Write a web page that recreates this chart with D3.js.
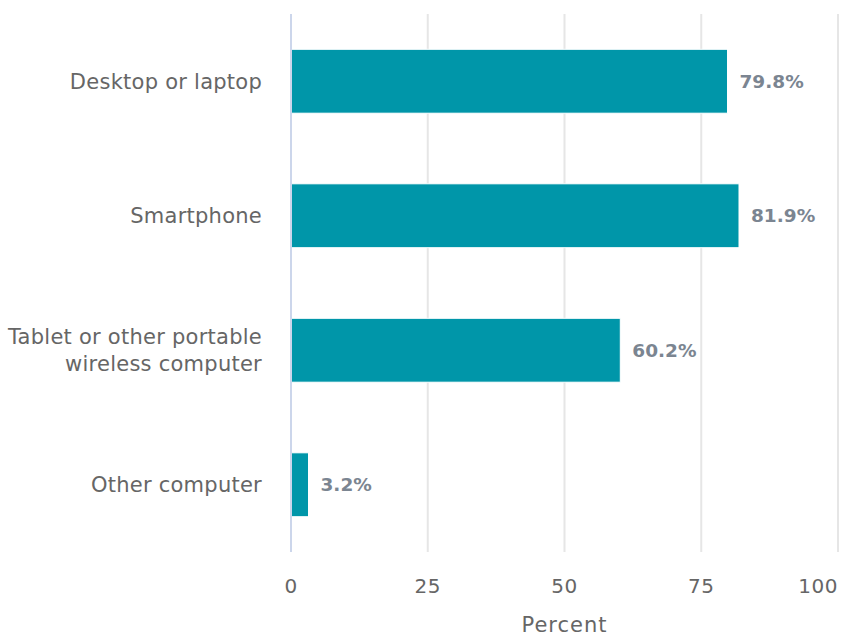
<!DOCTYPE html>
<html>
<head>
<meta charset="utf-8">
<script src="https://cdn.jsdelivr.net/npm/d3@7"></script>
<style>
  body { margin: 0; background: #fff; }
  svg text { font-family: "DejaVu Sans", sans-serif; }
</style>
</head>
<body>
<script>
// chart data
var categories = ["Desktop or laptop", "Smartphone", "Tablet or other portable\nwireless computer", "Other computer"];
var values = [79.8, 81.9, 60.2, 3.2];
var xTicks = [0, 25, 50, 75, 100];

var width = 841, height = 637;
var margin = {top: 14, right: 3, bottom: 85, left: 291};

var svg = d3.select("body").append("svg")
  .attr("width", width)
  .attr("height", height);

var x = d3.scaleLinear()
  .domain([0, 100])
  .range([margin.left, width - margin.right]);

var y = d3.scaleBand()
  .domain(categories)
  .range([margin.top, height - margin.bottom])
  .paddingInner(0.525)
  .paddingOuter(0.2625);

// gridlines
svg.append("g").selectAll("line")
  .data(xTicks.slice(1))
  .enter().append("line")
  .attr("x1", function(d) { return x(d); })
  .attr("x2", function(d) { return x(d); })
  .attr("y1", margin.top)
  .attr("y2", height - margin.bottom)
  .attr("stroke", "#e6e6e6")
  .attr("stroke-width", 2);

// bars
svg.append("g").selectAll("rect")
  .data(values)
  .enter().append("rect")
  .attr("x", x(0))
  .attr("y", function(d, i) { return y(categories[i]); })
  .attr("width", function(d) { return x(d) - x(0); })
  .attr("height", y.bandwidth())
  .attr("fill", "#0096a9")
  .attr("stroke", "#ffffff")
  .attr("stroke-width", 1);

// y axis line
svg.append("line")
  .attr("x1", x(0)).attr("x2", x(0))
  .attr("y1", margin.top).attr("y2", height - margin.bottom)
  .attr("stroke", "#ccd6eb")
  .attr("stroke-width", 2);

// value labels
svg.append("g").selectAll("text")
  .data(values)
  .enter().append("text")
  .attr("x", function(d) { return x(d) + 12; })
  .attr("y", function(d, i) { return y(categories[i]) + y.bandwidth() / 2; })
  .attr("dy", "0.35em")
  .style("font-size", "18.5px")
  .style("font-weight", "bold")
  .attr("fill", "#7b8591")
  .text(function(d) { return d.toFixed(1) + "%"; });

// category labels
var catLabels = svg.append("g").selectAll("text")
  .data(categories)
  .enter().append("text")
  .attr("text-anchor", "end")
  .attr("x", x(0) - 29)
  .attr("y", function(d) { return y(d) + y.bandwidth() / 2; })
  .style("font-size", "21px")
  .style("letter-spacing", "0.25px")
  .attr("fill", "#666666");

catLabels.each(function(d) {
  var lines = d.split("\n");
  var t = d3.select(this);
  lines.forEach(function(l, i) {
    t.append("tspan")
      .attr("x", x(0) - 29)
      .attr("dy", i === 0 ? (0.35 - (lines.length - 1) * 0.65) + "em" : "1.3em")
      .text(l);
  });
});

// x tick labels
svg.append("g").selectAll("text")
  .data(xTicks)
  .enter().append("text")
  .attr("x", function(d, i) { return i === xTicks.length - 1 ? x(d) : x(d); })
  .attr("y", 593)
  .attr("text-anchor", function(d, i) { return i === xTicks.length - 1 ? "end" : "middle"; })
  .style("font-size", "20px")
  .style("letter-spacing", "0.5px")
  .attr("fill", "#666666")
  .text(function(d) { return d; });

// x axis title
svg.append("text")
  .attr("x", (x(0) + x(100)) / 2)
  .attr("y", 632)
  .attr("text-anchor", "middle")
  .style("font-size", "21px")
  .style("letter-spacing", "1px")
  .attr("fill", "#666666")
  .text("Percent");
</script>
</body>
</html>
